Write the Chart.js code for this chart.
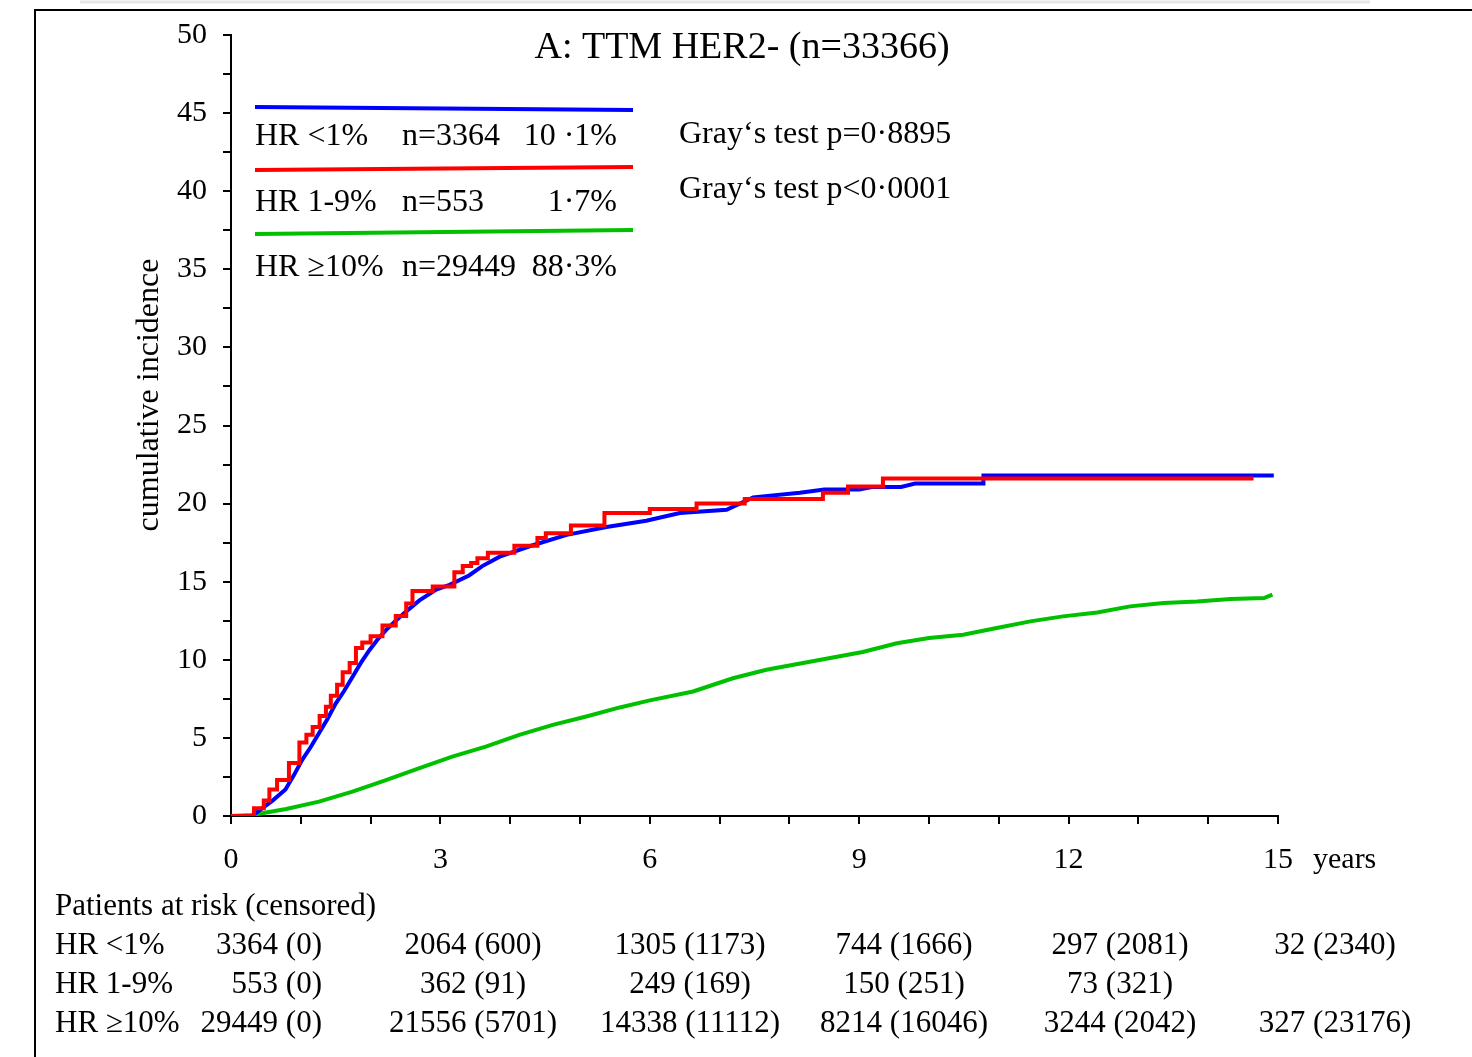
<!DOCTYPE html>
<html>
<head>
<meta charset="utf-8">
<script src="https://cdn.jsdelivr.net/npm/chart.js@4.4.1/dist/chart.umd.min.js"></script>
<style>
  html, body { margin: 0; padding: 0; background: #fff; }
  canvas { display: block; }
</style>
</head>
<body>
<canvas id="cifChart" width="1472" height="1057"></canvas>
<script>
// cumulative incidence curves (years, %)
const lowTimes = [0, 0.3, 0.45, 0.6, 0.78, 0.9, 1.02, 1.14, 1.26, 1.38, 1.5, 1.62, 1.74, 1.86, 1.98, 2.1, 2.22, 2.36, 2.51, 2.7, 2.94, 3.13, 3.41, 3.6, 3.85, 4.3, 4.81, 5.38, 5.95, 6.43, 7.1, 7.48, 8.15, 8.5, 9.0, 9.2, 9.6, 9.8, 10.78, 10.78, 14.94];
const lowValues = [0, 0, 0.5, 1.0, 1.7, 2.6, 3.6, 4.4, 5.3, 6.2, 7.2, 8.0, 8.9, 9.8, 10.6, 11.3, 11.9, 12.5, 13.1, 13.8, 14.5, 14.8, 15.4, 16.0, 16.6, 17.3, 18.0, 18.5, 18.9, 19.4, 19.6, 20.4, 20.7, 20.9, 20.9, 21.07, 21.07, 21.28, 21.28, 21.8, 21.8];

const midTimes = [0, 0.31, 0.33, 0.47, 0.55, 0.66, 0.83, 0.98, 1.08, 1.17, 1.27, 1.36, 1.43, 1.52, 1.6, 1.7, 1.79, 1.88, 2.0, 2.17, 2.36, 2.51, 2.6, 2.89, 3.2, 3.32, 3.44, 3.53, 3.68, 4.06, 4.39, 4.51, 4.87, 5.35, 6.0, 6.67, 7.36, 8.48, 8.84, 9.34, 14.65];
const midValues = [0, 0, 0.5, 1.0, 1.7, 2.3, 3.4, 4.7, 5.2, 5.7, 6.4, 7.0, 7.7, 8.4, 9.2, 9.8, 10.75, 11.1, 11.5, 12.2, 12.8, 13.6, 14.4, 14.7, 15.6, 16.0, 16.2, 16.5, 16.85, 17.3, 17.8, 18.1, 18.6, 19.4, 19.65, 20.0, 20.3, 20.7, 21.1, 21.6, 21.6];

const highTimes = [0, 0.3, 0.79, 1.26, 1.74, 2.22, 2.7, 3.17, 3.65, 4.13, 4.61, 5.09, 5.57, 6.0, 6.62, 7.19, 7.67, 8.39, 9.05, 9.54, 10.0, 10.49, 10.97, 11.45, 11.92, 12.41, 12.88, 13.36, 13.84, 14.32, 14.8, 14.92];
const highValues = [0, 0.06, 0.45, 0.92, 1.56, 2.3, 3.06, 3.8, 4.44, 5.19, 5.83, 6.37, 6.95, 7.4, 7.97, 8.82, 9.36, 9.95, 10.5, 11.06, 11.4, 11.6, 12.04, 12.46, 12.78, 13.03, 13.42, 13.63, 13.74, 13.9, 13.95, 14.17];

// legend / group info
const groupNames = ["HR <1%", "HR 1-9%", "HR \u226510%"];
const groupN = ["n=3364", "n=553", "n=29449"];
const groupShare = ["10 \u00b71%", "1\u00b77%", "88\u00b73%"];
const grayTests = ["Gray\u2018s test p=0\u00b78895", "Gray\u2018s test p<0\u00b70001"];

// patients at risk (censored) at 0, 3, 6, 9, 12, 15 years
const riskTimes = [0, 3, 6, 9, 12, 15];
const atRiskLow = [3364, 2064, 1305, 744, 297, 32];
const censLow = [0, 600, 1173, 1666, 2081, 2340];
const atRiskMid = [553, 362, 249, 150, 73];
const censMid = [0, 91, 169, 251, 321];
const atRiskHigh = [29449, 21556, 14338, 8214, 3244, 327];
const censHigh = [0, 5701, 11112, 16046, 2042, 23176];

const serif = '"Liberation Serif", "Times New Roman", serif';

function toPoints(xs, ys) {
  return xs.map((x, i) => ({ x: x, y: ys[i] }));
}

const overlay = {
  id: "overlay",
  afterDraw(chart) {
    const ctx = chart.ctx;
    ctx.save();

    // frame
    ctx.strokeStyle = "#e6e6e6";
    ctx.lineWidth = 3;
    ctx.beginPath();
    ctx.moveTo(80, 2); ctx.lineTo(1370, 2);
    ctx.stroke();
    ctx.strokeStyle = "#000";
    ctx.lineWidth = 2;
    ctx.beginPath();
    ctx.moveTo(35, 1057); ctx.lineTo(35, 10); ctx.lineTo(1472, 10);
    ctx.stroke();

    ctx.fillStyle = "#000";
    ctx.textBaseline = "middle";

    // title
    ctx.font = "38px " + serif;
    ctx.textAlign = "center";
    ctx.fillText("A: TTM HER2- (n=33366)", 742, 48);

    // y axis title
    ctx.save();
    ctx.translate(150, 395);
    ctx.rotate(-Math.PI / 2);
    ctx.font = "32px " + serif;
    ctx.fillText("cumulative incidence", 0, 0);
    ctx.restore();

    // legend lines
    const colors = ["#0000ff", "#ff0000", "#00c000"];
    const lineY = [[107, 110], [170, 167], [234, 230]];
    ctx.lineWidth = 4;
    colors.forEach((c, i) => {
      ctx.strokeStyle = c;
      ctx.beginPath();
      ctx.moveTo(255, lineY[i][0]);
      ctx.lineTo(633, lineY[i][1]);
      ctx.stroke();
    });

    // legend text
    ctx.font = "32px " + serif;
    const rowY = [137, 203, 268];
    groupNames.forEach((g, i) => {
      ctx.textAlign = "left";
      ctx.fillText(g, 255, rowY[i]);
      ctx.fillText(groupN[i], 402, rowY[i]);
      ctx.textAlign = "right";
      ctx.fillText(groupShare[i], 617, rowY[i]);
    });

    // Gray's tests
    ctx.textAlign = "left";
    ctx.fillText(grayTests[0], 679, 135);
    ctx.fillText(grayTests[1], 679, 190);

    // x axis unit
    ctx.font = "30px " + serif;
    ctx.fillText("years", 1313, 860);

    // at risk table
    ctx.font = "31px " + serif;
    ctx.fillText("Patients at risk (censored)", 55, 907);
    const tableRows = [[atRiskLow, censLow], [atRiskMid, censMid], [atRiskHigh, censHigh]];
    const colX = [322, 473, 690, 904, 1120, 1335];
    tableRows.forEach((row, r) => {
      const y = 946 + r * 39;
      ctx.textAlign = "left";
      ctx.fillText(groupNames[r], 55, y);
      row[0].forEach((n, k) => {
        const txt = n + " (" + row[1][k] + ")";
        ctx.textAlign = k === 0 ? "right" : "center";
        ctx.fillText(txt, colX[k], y);
      });
    });

    ctx.restore();
  }
};

new Chart(document.getElementById("cifChart"), {
  type: "line",
  data: {
    datasets: [
      {
        label: groupNames[1],
        data: toPoints(midTimes, midValues),
        borderColor: "#ff0000",
        borderWidth: 4,
        stepped: true,
        order: 0
      },
      {
        label: groupNames[0],
        data: toPoints(lowTimes, lowValues),
        borderColor: "#0000ff",
        borderWidth: 4,
        order: 1
      },
      {
        label: groupNames[2],
        data: toPoints(highTimes, highValues),
        borderColor: "#00c000",
        borderWidth: 4,
        order: 2
      }
    ]
  },
  options: {
    responsive: false,
    animation: false,
    layout: { padding: { left: 0, top: 35, right: 194, bottom: 0 } },
    elements: { point: { radius: 0 }, line: { tension: 0, fill: false } },
    plugins: { legend: { display: false }, tooltip: { enabled: false } },
    scales: {
      x: {
        type: "linear",
        min: 0,
        max: 15,
        afterFit: (s) => { s.height = 241; },
        border: { display: true, color: "#000", width: 2 },
        grid: { display: true, drawOnChartArea: false, drawTicks: true, tickLength: 8, color: "#000", lineWidth: 2 },
        ticks: {
          stepSize: 1,
          autoSkip: false,
          maxRotation: 0,
          padding: 18,
          color: "#000",
          font: { family: serif, size: 30 },
          callback: (v) => (v % 3 === 0 ? String(v) : "")
        }
      },
      y: {
        min: 0,
        max: 50,
        afterFit: (s) => { s.width = 231; },
        border: { display: true, color: "#000", width: 2 },
        grid: { display: true, drawOnChartArea: false, drawTicks: true, tickLength: 8, color: "#000", lineWidth: 2 },
        ticks: {
          stepSize: 2.5,
          autoSkip: false,
          padding: 16,
          color: "#000",
          font: { family: serif, size: 30 },
          callback: (v) => (v % 5 === 0 ? String(v) : "")
        }
      }
    }
  },
  plugins: [overlay]
});
</script>
</body>
</html>
